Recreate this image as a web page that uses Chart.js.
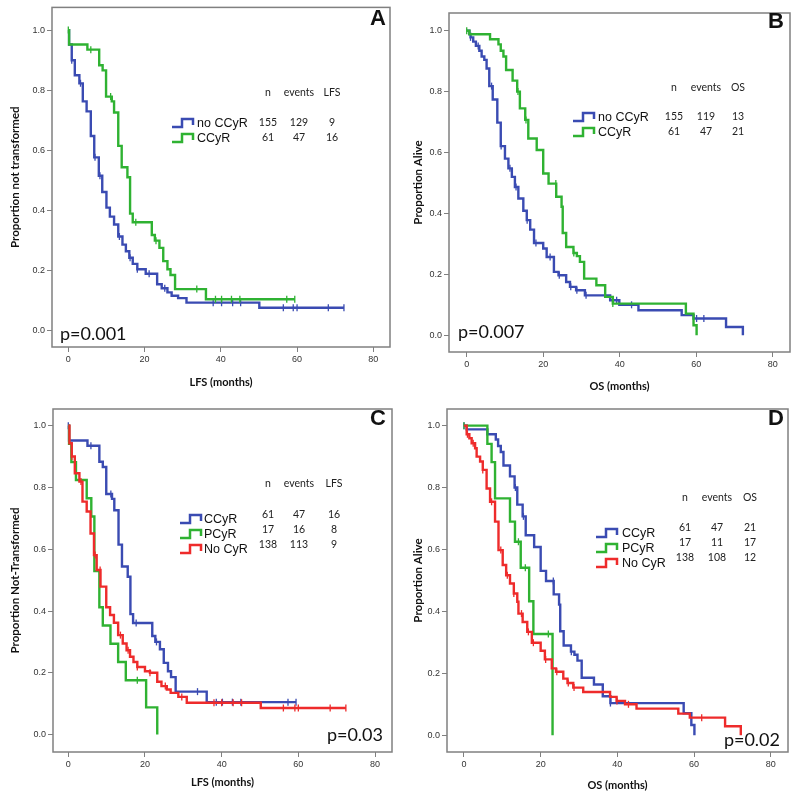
<!DOCTYPE html>
<html>
<head>
<meta charset="utf-8">
<script src="https://cdn.jsdelivr.net/npm/chart.js@4.4.0/dist/chart.umd.min.js"></script>
<style>
  html, body { margin: 0; padding: 0; background: #fff; }
  #wrap { position: relative; width: 800px; height: 807px; overflow: hidden; background: #fff; }
  #wrap canvas { position: absolute; }
</style>
</head>
<body>
<div id="wrap">
  <canvas id="panel-a" width="400" height="400" style="left:0px;top:0px"></canvas>
  <canvas id="panel-b" width="400" height="400" style="left:400px;top:0px"></canvas>
  <canvas id="panel-c" width="400" height="407" style="left:0px;top:400px"></canvas>
  <canvas id="panel-d" width="400" height="407" style="left:400px;top:400px"></canvas>
</div>
<script>
document.addEventListener('DOMContentLoaded', () => {

    const BLUE = '#3a4bb2';
    const GREEN = '#2fb232';
    const RED = '#ee2b2b';

    // LFS - CCyR (green in A, blue in C)
    const lfsCcyrMonths = [0, 0.2, 5.0, 8.1, 9.0, 9.9, 11.4, 12.0, 13.1, 14.0, 15.5, 16.2, 16.9, 21.9, 22.7, 23.9, 24.9, 26.0, 26.8, 28.0, 36.1, 59.4];
    const lfsCcyrSurv = [1, 0.952, 0.935, 0.883, 0.866, 0.779, 0.763, 0.726, 0.615, 0.544, 0.511, 0.39, 0.361, 0.319, 0.3, 0.276, 0.232, 0.205, 0.186, 0.139, 0.105, 0.105];
    const lfsCcyrCensored = [0, 5.9, 11.1, 17.7, 23.0, 33.7, 38.6, 40.2, 42.8, 45, 57.3, 59.4];

    // LFS - no CCyR (blue in A)
    const lfsNoCcyrMonths = [0, 0.2, 0.9, 1.7, 2.9, 3.8, 4.8, 5.9, 6.8, 8.0, 8.9, 10.0, 10.9, 12.0, 13.1, 14.2, 15.1, 16.0, 16.9, 18.1, 20.3, 23.3, 24.5, 26.0, 27.1, 28.8, 31.0, 50.1, 72.3];
    const lfsNoCcyrSurv = [1, 0.952, 0.9, 0.85, 0.823, 0.763, 0.73, 0.648, 0.577, 0.516, 0.462, 0.41, 0.38, 0.354, 0.314, 0.287, 0.265, 0.243, 0.223, 0.205, 0.19, 0.155, 0.142, 0.128, 0.117, 0.109, 0.094, 0.077, 0.077];
    const lfsNoCcyrCensored = [0.9, 3.2, 7.0, 8.3, 13.4, 16.2, 18.1, 21.2, 25.3, 38, 40.2, 43.1, 45.2, 56.4, 59, 60, 68.2, 72.3];

    // LFS - PCyR (green in C)
    const lfsPcyrMonths = [0, 0.2, 0.8, 2.0, 4.8, 6.0, 6.8, 8.1, 9.0, 11.0, 13.0, 15.0, 20.3, 23.2];
    const lfsPcyrSurv = [1, 0.941, 0.882, 0.824, 0.765, 0.706, 0.529, 0.412, 0.353, 0.294, 0.235, 0.176, 0.088, 0];
    const lfsPcyrCensored = [18.0];

    // LFS - No CyR (red in C)
    const lfsNoCyrMonths = [0, 0.3, 0.9, 1.7, 2.9, 3.7, 4.8, 5.8, 6.7, 7.4, 8.4, 9.9, 10.9, 11.9, 13.0, 14.2, 15.2, 16.1, 17.0, 18.0, 20.0, 21.3, 23.2, 24.3, 25.7, 26.7, 28.7, 30.9, 50.2, 72.4];
    const lfsNoCyrSurv = [1, 0.943, 0.9, 0.846, 0.819, 0.754, 0.722, 0.651, 0.581, 0.533, 0.479, 0.412, 0.387, 0.362, 0.322, 0.295, 0.273, 0.252, 0.235, 0.219, 0.205, 0.2, 0.171, 0.157, 0.146, 0.135, 0.122, 0.103, 0.086, 0.086];
    const lfsNoCyrCensored = [0.9, 3.3, 7.0, 8.3, 13.6, 15.6, 18.0, 21.3, 25.3, 29.6, 38.0, 40.0, 43.0, 45.2, 56.1, 59.1, 60.0, 68.3, 72.4];

    // OS - CCyR (green in B, blue in D)
    const osCcyrMonths = [0, 0.7, 6.1, 8.3, 8.9, 9.6, 10.3, 12.0, 13.2, 13.9, 15.3, 16.1, 18.3, 20.0, 21.4, 23.4, 24.8, 25.1, 26.0, 27.9, 28.8, 29.6, 30.7, 33.9, 36.2, 38.2, 57.3, 59.3, 60.1];
    const osCcyrSurv = [1, 0.988, 0.972, 0.955, 0.934, 0.915, 0.871, 0.836, 0.8, 0.745, 0.707, 0.646, 0.608, 0.531, 0.498, 0.455, 0.422, 0.336, 0.29, 0.27, 0.26, 0.241, 0.186, 0.164, 0.126, 0.104, 0.071, 0.033, 0];
    const osCcyrCensored = [0, 13.4, 15.5, 23.3, 28.0, 38.2];

    // OS - no CCyR (blue in B)
    const osNoCcyrMonths = [0, 0.7, 1.0, 1.7, 2.4, 3.3, 3.9, 4.6, 5.2, 5.9, 6.8, 8.0, 8.9, 10.0, 10.9, 11.8, 12.6, 13.5, 14.8, 15.7, 16.6, 17.6, 20.0, 20.9, 22.8, 24.0, 26.0, 27.0, 28.6, 30.9, 37.5, 39.9, 44.9, 56.2, 59.3, 67.8, 72.2];
    const osNoCcyrSurv = [1, 0.989, 0.978, 0.964, 0.95, 0.934, 0.915, 0.904, 0.876, 0.818, 0.774, 0.698, 0.621, 0.58, 0.548, 0.52, 0.487, 0.449, 0.409, 0.378, 0.347, 0.303, 0.285, 0.257, 0.208, 0.197, 0.175, 0.159, 0.148, 0.131, 0.115, 0.1, 0.082, 0.066, 0.055, 0.027, 0];
    const osNoCcyrCensored = [1.0, 3.0, 6.5, 9.0, 11.3, 12.9, 15.8, 18.1, 21.8, 24.2, 27.2, 28.8, 31.2, 39.2, 43.1, 60.1, 62.0];

    // OS - PCyR (green in D)
    const osPcyrMonths = [0, 6.1, 7.2, 8.1, 12.0, 13.3, 14.8, 17.0, 18.1, 23.1];
    const osPcyrSurv = [1, 0.941, 0.882, 0.765, 0.69, 0.625, 0.541, 0.433, 0.327, 0];
    const osPcyrCensored = [0, 14.2, 16.0, 22.0];

    // OS - No CyR (red in D)
    const osNoCyrMonths = [0, 0.7, 1.4, 2.0, 2.9, 3.3, 4.2, 4.9, 5.9, 6.8, 8.1, 9.0, 10.1, 11.0, 12.0, 13.0, 13.9, 14.2, 15.3, 16.5, 17.7, 20.0, 21.1, 22.9, 24.0, 25.9, 27.0, 28.5, 31.1, 38.1, 39.8, 42.0, 45.0, 55.9, 58.9, 68.1, 72.2];
    const osNoCyrSurv = [1, 0.972, 0.959, 0.943, 0.927, 0.9, 0.884, 0.857, 0.797, 0.754, 0.69, 0.598, 0.55, 0.517, 0.49, 0.458, 0.431, 0.393, 0.366, 0.334, 0.299, 0.273, 0.245, 0.216, 0.205, 0.183, 0.169, 0.154, 0.14, 0.124, 0.111, 0.1, 0.086, 0.07, 0.057, 0.029, 0];
    const osNoCyrCensored = [0.9, 2.4, 4.9, 7.2, 9.6, 11.3, 13.0, 15.0, 16.8, 18.1, 21.3, 24.2, 27.2, 28.7, 39.9, 42.9, 62.0];

    const xTickValues = [0, 20, 40, 60, 80];
    const yTickValues = [0, 0.2, 0.4, 0.6, 0.8, 1.0];

    const tableHeadLfs = ['n', 'events', 'LFS'];
    const tableHeadOs = ['n', 'events', 'OS'];
    const tableRowsA = [['155', '129', '9'], ['61', '47', '16']];
    const tableRowsB = [['155', '119', '13'], ['61', '47', '21']];
    const tableRowsC = [['61', '47', '16'], ['17', '16', '8'], ['138', '113', '9']];
    const tableRowsD = [['61', '47', '21'], ['17', '11', '17'], ['138', '108', '12']];

    const panels = [
        {
            canvasId: 'panel-a', letter: 'A', letterX: 378, letterY: 19,
            yTitle: 'Proportion not transformed', yTitleX: 15,
            xTitle: 'LFS (months)', xTitleY: 382,
            pValue: 'p=0.001', pX: 60, pY: 334, pAlign: 'left',
            area: { yAxisW: 52, xAxisH: 53, top: 3, right: 10 },
            xRange: [-4.28, 84.38], yRange: [-0.0535, 1.0755],
            groups: [
                { label: 'no CCyR', months: lfsNoCcyrMonths, surv: lfsNoCcyrSurv, censored: lfsNoCcyrCensored, color: BLUE },
                { label: 'CCyR', months: lfsCcyrMonths, surv: lfsCcyrSurv, censored: lfsCcyrCensored, color: GREEN }
            ],
            head: tableHeadLfs, rows: tableRowsA,
            table: { headY: 93, rowY: [123, 138], labelY: [123, 138], cols: [268, 299, 332], iconX: 172, labelX: 197 }
        },
        {
            canvasId: 'panel-b', letter: 'B', letterX: 376, letterY: 22,
            yTitle: 'Proportion Alive', yTitleX: 18,
            xTitle: 'OS (months)', xTitleY: 386,
            pValue: 'p=0.007', pX: 58, pY: 332, pAlign: 'left',
            area: { yAxisW: 49, xAxisH: 48, top: 13, right: 10 },
            xRange: [-4.63, 84.52], yRange: [-0.0549, 1.058],
            groups: [
                { label: 'no CCyR', months: osNoCcyrMonths, surv: osNoCcyrSurv, censored: osNoCcyrCensored, color: BLUE },
                { label: 'CCyR', months: osCcyrMonths, surv: osCcyrSurv, censored: osCcyrCensored, color: GREEN }
            ],
            head: tableHeadOs, rows: tableRowsB,
            table: { headY: 88, rowY: [117, 132], labelY: [117, 132], cols: [274, 306, 338], iconX: 173, labelX: 198 }
        },
        {
            canvasId: 'panel-c', letter: 'C', letterX: 378, letterY: 19,
            yTitle: 'Proportion Not-Transformed', yTitleX: 15,
            xTitle: 'LFS (months)', xTitleY: 382,
            pValue: 'p=0.03', pX: 383, pY: 335, pAlign: 'right',
            area: { yAxisW: 53, xAxisH: 55, top: 9, right: 8 },
            xRange: [-3.99, 84.43], yRange: [-0.0564, 1.054],
            groups: [
                { label: 'CCyR', months: lfsCcyrMonths, surv: lfsCcyrSurv, censored: lfsCcyrCensored, color: BLUE },
                { label: 'PCyR', months: lfsPcyrMonths, surv: lfsPcyrSurv, censored: lfsPcyrCensored, color: GREEN },
                { label: 'No CyR', months: lfsNoCyrMonths, surv: lfsNoCyrSurv, censored: lfsNoCyrCensored, color: RED }
            ],
            head: tableHeadLfs, rows: tableRowsC,
            table: { headY: 84, rowY: [115, 130, 145], labelY: [119, 134, 149], cols: [268, 299, 334], iconX: 180, labelX: 204 }
        },
        {
            canvasId: 'panel-d', letter: 'D', letterX: 376, letterY: 19,
            yTitle: 'Proportion Alive', yTitleX: 18,
            xTitle: 'OS (months)', xTitleY: 385,
            pValue: 'p=0.02', pX: 380, pY: 340, pAlign: 'right',
            area: { yAxisW: 47, xAxisH: 55, top: 9, right: 12 },
            xRange: [-4.43, 84.51], yRange: [-0.054, 1.0537],
            groups: [
                { label: 'CCyR', months: osCcyrMonths, surv: osCcyrSurv, censored: osCcyrCensored, color: BLUE },
                { label: 'PCyR', months: osPcyrMonths, surv: osPcyrSurv, censored: osPcyrCensored, color: GREEN },
                { label: 'No CyR', months: osNoCyrMonths, surv: osNoCyrSurv, censored: osNoCyrCensored, color: RED }
            ],
            head: tableHeadOs, rows: tableRowsD,
            table: { headY: 98, rowY: [128, 143, 158], labelY: [133, 148, 163], cols: [285, 317, 350], iconX: 196, labelX: 222 }
        }
    ];

    function survivalAt(months, surv, t) {
        let value = surv[0];
        months.forEach((m, i) => {
            if (m <= t) value = surv[i];
        });
        return value;
    }

    function drawStepIcon(ctx, x, y, color) {
        ctx.save();
        ctx.strokeStyle = color;
        ctx.lineWidth = 2.5;
        ctx.beginPath();
        ctx.moveTo(x, y + 4);
        ctx.lineTo(x + 10, y + 4);
        ctx.lineTo(x + 10, y - 4);
        ctx.lineTo(x + 21, y - 4);
        ctx.lineTo(x + 21, y + 2);
        ctx.stroke();
        ctx.restore();
    }

    function makePanelPlugin(panel) {
        return {
            id: 'panelNotes',
            beforeDatasetsDraw(chart) {
                const { ctx, chartArea: a } = chart;
                ctx.save();
                ctx.strokeStyle = '#808080';
                ctx.lineWidth = 1.5;
                ctx.strokeRect(a.left, a.top, a.right - a.left, a.bottom - a.top);
                ctx.restore();
            },
            afterDraw(chart) {
                const { ctx, chartArea: a } = chart;
                const t = panel.table;
                ctx.save();
                ctx.fillStyle = '#111';

                ctx.font = 'bold 22px "Liberation Sans", Arial, sans-serif';
                ctx.textAlign = 'center';
                ctx.textBaseline = 'middle';
                ctx.fillText(panel.letter, panel.letterX, panel.letterY);

                ctx.font = 'bold 11px Lato, "Liberation Sans", sans-serif';
                ctx.fillText(panel.xTitle, (a.left + a.right) / 2, panel.xTitleY);
                ctx.font = 'bold 11.5px Lato, "Liberation Sans", sans-serif';
                ctx.save();
                ctx.translate(panel.yTitleX, (a.top + a.bottom) / 2);
                ctx.rotate(-Math.PI / 2);
                ctx.fillText(panel.yTitle, 0, 0);
                ctx.restore();

                ctx.font = '18px Lato, "Liberation Sans", sans-serif';
                ctx.textAlign = panel.pAlign;
                ctx.fillText(panel.pValue, panel.pX, panel.pY);

                ctx.font = '10.5px Lato, "Liberation Sans", sans-serif';
                ctx.textAlign = 'center';
                ctx.fillStyle = '#222';
                panel.head.forEach((h, i) => ctx.fillText(h, t.cols[i], t.headY));
                panel.rows.forEach((row, r) => {
                    row.forEach((v, i) => ctx.fillText(v, t.cols[i], t.rowY[r]));
                });

                ctx.font = '12.5px "Liberation Sans", Arial, sans-serif';
                ctx.textAlign = 'left';
                ctx.fillStyle = '#111';
                panel.groups.forEach((g, r) => {
                    drawStepIcon(ctx, t.iconX, t.labelY[r], g.color);
                    ctx.fillText(g.label, t.labelX, t.labelY[r] + 1);
                });
                ctx.restore();
            }
        };
    }

    function buildDatasets(panel) {
        const datasets = [];
        const n = panel.groups.length;
        panel.groups.forEach((g, i) => {
            // 'before' in Chart.js = hold the previous value, then drop at the event time
            datasets.push({
                label: g.label,
                data: g.months.map((m, k) => ({ x: m, y: g.surv[k] })),
                stepped: 'before',
                borderColor: g.color,
                borderWidth: 2.4,
                pointRadius: 0,
                fill: false,
                order: n - i
            });
            datasets.push({
                label: g.label + ' censored',
                data: g.censored.map(c => ({ x: c, y: survivalAt(g.months, g.surv, c) })),
                showLine: false,
                pointStyle: 'line',
                rotation: 90,
                pointRadius: 3.5,
                pointBorderWidth: 1.3,
                borderColor: g.color,
                backgroundColor: g.color,
                order: n - i
            });
        });
        return datasets;
    }

    function initializePanel(panel) {
        const ctx = document.getElementById(panel.canvasId).getContext('2d');
        const tickFont = { family: '"Liberation Sans", Arial, sans-serif', size: 9 };
        new Chart(ctx, {
            type: 'line',
            data: { datasets: buildDatasets(panel) },
            options: {
                responsive: false,
                animation: false,
                events: [],
                layout: { autoPadding: false, padding: { top: panel.area.top, right: panel.area.right, left: 0, bottom: 0 } },
                plugins: { legend: { display: false }, tooltip: { enabled: false } },
                scales: {
                    x: {
                        type: 'linear',
                        min: panel.xRange[0],
                        max: panel.xRange[1],
                        afterBuildTicks: s => { s.ticks = xTickValues.map(v => ({ value: v })); },
                        afterFit: s => { s.height = panel.area.xAxisH; },
                        grid: { drawOnChartArea: false, drawTicks: true, tickLength: 5, color: '#808080' },
                        border: { display: false },
                        ticks: { font: tickFont, color: '#333', padding: 2, maxRotation: 0, autoSkip: false, callback: v => String(v) }
                    },
                    y: {
                        type: 'linear',
                        min: panel.yRange[0],
                        max: panel.yRange[1],
                        afterBuildTicks: s => { s.ticks = yTickValues.map(v => ({ value: v })); },
                        afterFit: s => { s.width = panel.area.yAxisW; },
                        grid: { drawOnChartArea: false, drawTicks: true, tickLength: 5, color: '#808080' },
                        border: { display: false },
                        ticks: { font: tickFont, color: '#333', padding: 2, autoSkip: false, callback: v => v.toFixed(1) }
                    }
                }
            },
            plugins: [makePanelPlugin(panel)]
        });
    }

    panels.forEach(initializePanel);

});
</script>
</body>
</html>
